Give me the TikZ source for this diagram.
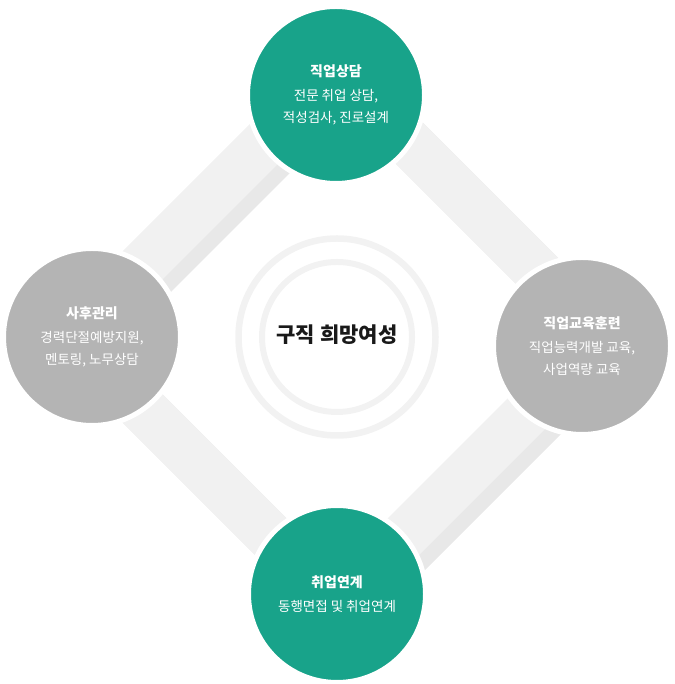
\documentclass[tikz,border=0pt]{standalone}
\usepackage{fontspec}
\setmainfont{Noto Sans CJK KR}
\usepackage{xcolor}
\definecolor{jobgreen}{HTML}{18A38A}
\definecolor{jobgray}{HTML}{B4B4B4}
\definecolor{bandlight}{HTML}{F1F1F1}
\definecolor{banddark}{HTML}{E8E8E8}
\definecolor{ringgray}{HTML}{F2F2F2}

\begin{document}
\begin{tikzpicture}[x = 1pt, y = 1pt,
	bubble/.style = {circle, minimum size = 177pt, inner sep = 0pt, draw = white, line width = 5pt,
		text = white, align = center, font = \fontsize{13.5}{22}\selectfont},
	title/.style = {font = \bfseries\fontsize{14}{22}\selectfont}]
	\useasboundingbox (0,0) rectangle (674,684);
	
	% diamond frame with its shadow
	\begin{scope}[shift = {(337,347)}]
		\def\Rout{300}
		\def\Rin{232}
		\fill[banddark, even odd rule, shift = {(10.5,-10.5)}]
			(\Rout,0) -- (0,\Rout) -- (-\Rout,0) -- (0,-\Rout) -- cycle
			(\Rin,0) -- (0,\Rin) -- (-\Rin,0) -- (0,-\Rin) -- cycle;
		\fill[bandlight, even odd rule]
			(\Rout,0) -- (0,\Rout) -- (-\Rout,0) -- (0,-\Rout) -- cycle
			(\Rin,0) -- (0,\Rin) -- (-\Rin,0) -- (0,-\Rin) -- cycle;
		
		% rings round the centre
		\draw[ringgray, line width = 6.5pt] (0,0) circle (98.5);
		\draw[ringgray, line width = 6pt] (0,0) circle (75);
	\end{scope}
	
	\node[font = \bfseries\fontsize{21}{24}\selectfont, text = black!90] (goal) at (337,349) {구직 희망여성};
	
	% the four steps
	\node[bubble, fill = jobgreen] (counsel) at (336,589)
		{{\bfseries\fontsize{14}{22}\selectfont 직업상담}\\[2pt] 전문 취업 상담,\\ 적성검사, 진로설계};
	\node[bubble, fill = jobgray] (training) at (582,338)
		{{\bfseries\fontsize{14}{22}\selectfont 직업교육훈련}\\[2pt] 직업능력개발 교육,\\ 사업역량 교육};
	\node[bubble, fill = jobgreen] (placement) at (337,90)
		{{\bfseries\fontsize{14}{22}\selectfont 취업연계}\\[2pt] 동행면접 및 취업연계};
	\node[bubble, fill = jobgray] (aftercare) at (92,347)
		{{\bfseries\fontsize{14}{22}\selectfont 사후관리}\\[2pt] 경력단절예방지원,\\ 멘토링, 노무상담};
	
\end{tikzpicture}
\end{document}
